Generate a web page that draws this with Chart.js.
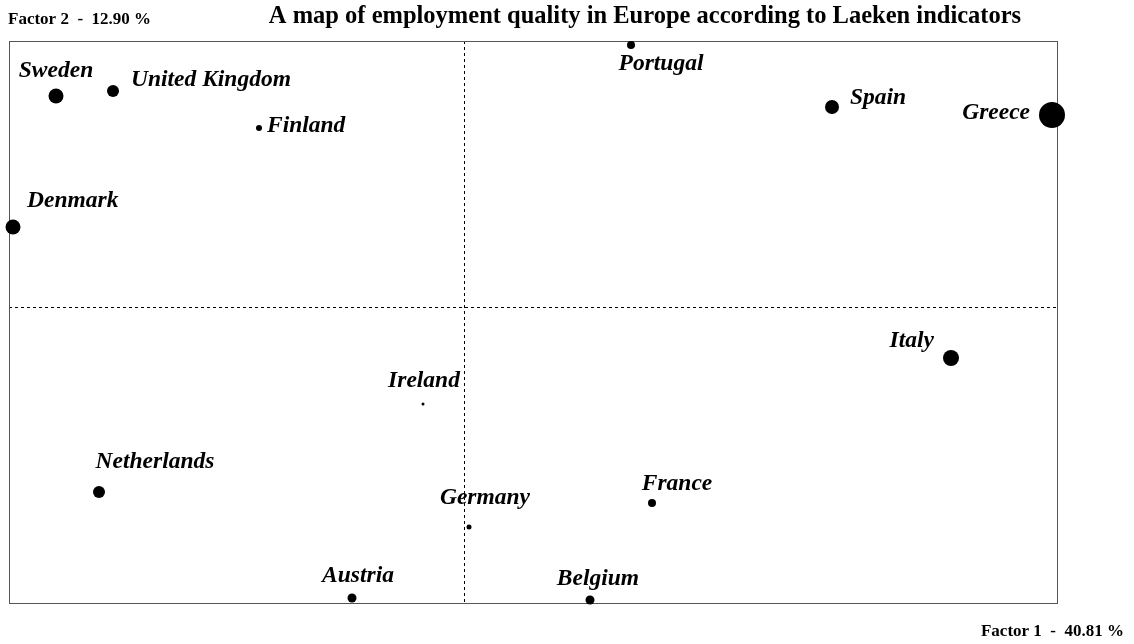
<!DOCTYPE html>
<html>
<head>
<meta charset="utf-8">
<script src="https://cdn.jsdelivr.net/npm/chart.js@4"></script>
<style>
  html, body { margin: 0; padding: 0; background: #fff; }
  #wrap { width: 1134px; height: 644px; }
</style>
</head>
<body>
<div id="wrap"><canvas id="map"></canvas></div>
<script>
// countries and their coordinates on the first factorial plane
const countries = ['Sweden', 'United Kingdom', 'Finland', 'Denmark', 'Portugal', 'Spain', 'Greece',
    'Italy', 'Ireland', 'Netherlands', 'Germany', 'France', 'Austria', 'Belgium'];
const factor1 = [-4.08, -3.51, -2.05, -4.51, 1.67, 3.68, 5.88, 4.87, -0.41, -3.65, 0.05, 1.88, -1.12, 1.26];
const factor2 = [2.11, 2.16, 1.79, 0.80, 2.62, 2.00, 1.92, -0.51, -0.97, -1.85, -2.20, -1.96, -2.91, -2.93];
// quality of representation (drawn as point size)
const quality = [7.5, 6, 3, 7.5, 4, 7, 13, 8, 1.5, 6, 2.5, 4, 4.5, 4.5];

const titleText = 'A map of employment quality in Europe according to Laeken indicators';
const axis1Text = 'Factor 1  -  40.81 %';
const axis2Text = 'Factor 2  -  12.90 %';

// where each name sits relative to its point
const labelPlacement = {
    'Sweden': [0, -25, 'center'],
    'United Kingdom': [18, -11, 'left'],
    'Finland': [8, -2, 'left'],
    'Denmark': [14, -26, 'left'],
    'Portugal': [30, 19, 'center'],
    'Spain': [18, -9, 'left'],
    'Greece': [-22, -2, 'right'],
    'Italy': [-17, -17, 'right'],
    'Ireland': [1, -23, 'center'],
    'Netherlands': [56, -30, 'center'],
    'Germany': [16, -29, 'center'],
    'France': [25, -19, 'center'],
    'Austria': [6, -22, 'center'],
    'Belgium': [8, -21, 'center'],
};

const factorMapPlugin = {
    id: 'factorMap',
    beforeDatasetsDraw(chart) {
        const { ctx, chartArea: a, scales: { x, y } } = chart;
        ctx.save();
        // dashed axes through the origin
        ctx.strokeStyle = '#000';
        ctx.lineWidth = 1;
        ctx.setLineDash([3, 3]);
        const x0 = Math.round(x.getPixelForValue(0)) + 0.5;
        const y0 = Math.round(y.getPixelForValue(0)) + 0.5;
        ctx.beginPath();
        ctx.moveTo(x0, a.top); ctx.lineTo(x0, a.bottom);
        ctx.moveTo(a.left, y0); ctx.lineTo(a.right, y0);
        ctx.stroke();
        // frame
        ctx.setLineDash([]);
        ctx.strokeStyle = '#555';
        ctx.strokeRect(Math.round(a.left) + 0.5, Math.round(a.top) + 0.5,
            Math.round(a.right - a.left), Math.round(a.bottom - a.top));
        // titles
        ctx.fillStyle = '#000';
        ctx.textBaseline = 'middle';
        ctx.font = 'bold 24.5px "Liberation Serif"';
        ctx.textAlign = 'center';
        ctx.fillText(titleText, 645, 17);
        ctx.font = 'bold 17px "Liberation Serif"';
        ctx.textAlign = 'left';
        ctx.fillText(axis2Text, 8, 20);
        ctx.textAlign = 'right';
        ctx.fillText(axis1Text, 1124, 632);
        ctx.restore();
    },
    afterDatasetsDraw(chart) {
        const { ctx, scales: { x, y } } = chart;
        ctx.save();
        ctx.fillStyle = '#000';
        ctx.font = 'italic bold 23.5px "Liberation Serif"';
        ctx.textBaseline = 'middle';
        countries.forEach((name, i) => {
            const [dx, dy, align] = labelPlacement[name];
            ctx.textAlign = align;
            ctx.fillText(name, x.getPixelForValue(factor1[i]) + dx, y.getPixelForValue(factor2[i]) + dy);
        });
        ctx.restore();
    }
};

new Chart(document.getElementById('map'), {
    type: 'bubble',
    data: {
        datasets: [{
            data: countries.map((c, i) => ({ x: factor1[i], y: factor2[i], r: quality[i] })),
            backgroundColor: '#000',
            borderWidth: 0,
            hoverRadius: 0,
            clip: false
        }]
    },
    options: {
        responsive: true,
        maintainAspectRatio: false,
        animation: false,
        events: [],
        layout: { autoPadding: false, padding: { left: 9, top: 41, right: 77, bottom: 41 } },
        plugins: {
            legend: { display: false },
            title: { display: false },
            tooltip: { enabled: false }
        },
        scales: {
            x: { type: 'linear', min: -4.55, max: 5.93, display: false },
            y: { type: 'linear', min: -2.96, max: 2.66, display: false }
        }
    },
    plugins: [factorMapPlugin]
});
</script>
</body>
</html>
